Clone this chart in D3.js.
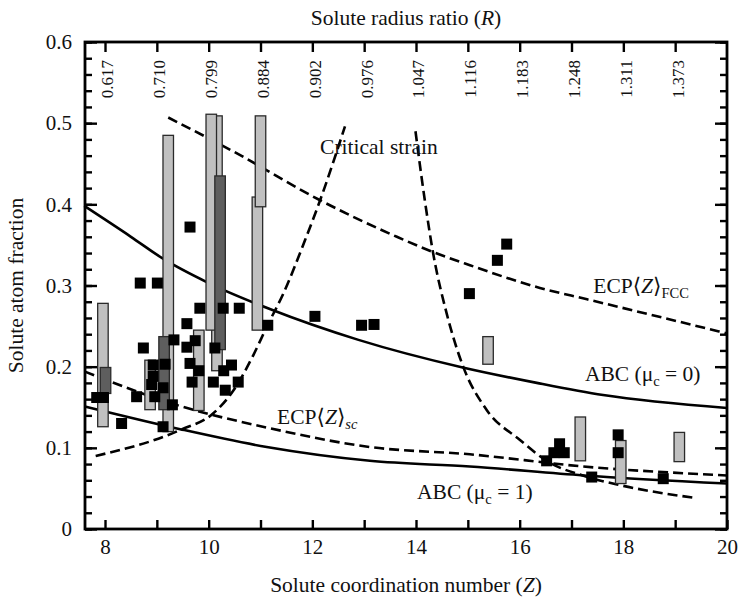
<!DOCTYPE html>
<html>
<head>
<meta charset="utf-8">
<script src="https://cdn.jsdelivr.net/npm/d3@7"></script>
<style>
  body { margin: 0; background: #fff; }
  svg text { font-family: "Liberation Serif", "DejaVu Serif", serif; fill: #111; }
</style>
</head>
<body>
<div id="chart"></div>
<script>
// top axis: solute radius ratio R at integer Z
const radiusZ = [8, 9, 10, 11, 12, 13, 14, 15, 16, 17, 18, 19];
const radiusLabels = ['0.617', '0.710', '0.799', '0.884', '0.902', '0.976',
  '1.047', '1.116', '1.183', '1.248', '1.311', '1.373'];

// model curves, [Z, atom fraction]
const abc0 = [[7.6, 0.398], [8.5, 0.360], [9.12, 0.333], [10, 0.303], [11.18, 0.271],
  [12.89, 0.233], [14.9, 0.199], [16.33, 0.180], [17.61, 0.165], [20, 0.149]];
const abc1 = [[7.61, 0.151], [9.45, 0.123], [11.12, 0.101], [13.11, 0.084],
  [15.04, 0.077], [17.23, 0.066], [20, 0.056]];
const ecpFcc = [[9.22, 0.507], [10.48, 0.465], [12.15, 0.405], [13.63, 0.360],
  [14.3, 0.342], [15.04, 0.325], [16.39, 0.297], [17.3, 0.283], [20, 0.241]];
const ecpSc = [[7.61, 0.194], [9.45, 0.1515], [11.12, 0.125], [13.11, 0.101],
  [15.04, 0.092], [17.23, 0.077], [20, 0.066]];
const strainLow = [[7.82, 0.090], [9.45, 0.122], [10.09, 0.1425], [10.48, 0.171],
  [10.86, 0.214], [11.12, 0.249], [11.44, 0.290], [11.86, 0.356], [12.15, 0.405], [12.63, 0.496]];
const strainHigh = [[13.99, 0.490], [14.17, 0.405], [14.33, 0.340], [14.59, 0.266],
  [14.91, 0.200], [15.36, 0.147], [16.0, 0.110], [16.52, 0.084], [17.29, 0.0645],
  [17.94, 0.054], [19.41, 0.038]];

// measured solutes, [Z, atom fraction]
const solutes = [
  [9.64, 0.372], [9.83, 0.272], [10.28, 0.272], [10.59, 0.272], [9.58, 0.253], [11.14, 0.251],
  [9.74, 0.232], [9.58, 0.224], [10.12, 0.223], [9.64, 0.204], [9.81, 0.195], [10.44, 0.202],
  [10.29, 0.195], [9.68, 0.181], [10.09, 0.181], [10.57, 0.181], [10.32, 0.171],
  [8.68, 0.303], [9.01, 0.303], [8.74, 0.223], [7.84, 0.162], [7.97, 0.162], [8.32, 0.130],
  [8.61, 0.163], [8.93, 0.202], [9.16, 0.203], [8.93, 0.188], [8.90, 0.178], [8.96, 0.163],
  [9.12, 0.174], [9.33, 0.233], [9.30, 0.153], [9.12, 0.126],
  [12.05, 0.262], [12.95, 0.251], [13.19, 0.252], [15.03, 0.290], [15.57, 0.331], [15.75, 0.351],
  [16.77, 0.105], [16.66, 0.094], [16.86, 0.094], [16.52, 0.084], [17.39, 0.064],
  [17.90, 0.116], [17.90, 0.094], [18.77, 0.062]
];

// composition ranges, [Z, low, high]
const lightRanges = [
  [7.96, 0.126, 0.278], [8.87, 0.147, 0.208], [9.22, 0.120, 0.485], [9.81, 0.146, 0.245],
  [10.16, 0.195, 0.509], [10.05, 0.245, 0.511], [10.94, 0.245, 0.409], [11.0, 0.397, 0.509],
  [15.39, 0.203, 0.237], [17.17, 0.084, 0.138], [17.95, 0.056, 0.109], [19.08, 0.083, 0.119]
];
const darkRanges = [[8.01, 0.167, 0.199], [9.14, 0.147, 0.237], [10.22, 0.221, 0.435]];

const labels = [
  { z: 12.15, c: 0.462, parts: [['Critical strain']] },
  { z: 17.42, c: 0.291, parts: [['ECP⟨'], ['Z', 'i'], ['⟩'], ['FCC', 'sub']] },
  { z: 17.26, c: 0.182, parts: [['ABC (μ'], ['c', 'sub'], [' = 0)', 'back']] },
  { z: 11.32, c: 0.129, parts: [['ECP⟨'], ['Z', 'i'], ['⟩'], ['sc', 'subi']] },
  { z: 14.02, c: 0.037, parts: [['ABC (μ'], ['c', 'sub'], [' = 1)', 'back']] }
];

const width = 739;
const height = 598;
const margin = { top: 42, right: 12, bottom: 69, left: 85 };

const svg = d3.select('#chart').append('svg')
  .attr('width', width)
  .attr('height', height);

const x = d3.scaleLinear()
  .domain([7.614, 20])
  .range([margin.left, width - margin.right]);
const y = d3.scaleLinear()
  .domain([0, 0.6])
  .range([height - margin.bottom, margin.top]);

const line = d3.line()
  .x(d => x(d[0]))
  .y(d => y(d[1]))
  .curve(d3.curveMonotoneX);

// curves
const curves = svg.append('g').attr('fill', 'none').attr('stroke', '#000').attr('stroke-width', 2.6);
[abc0, abc1].forEach(d => curves.append('path').attr('d', line(d)));
[ecpFcc, ecpSc, strainLow, strainHigh].forEach(d => curves.append('path')
  .attr('d', line(d))
  .attr('stroke-dasharray', '10,5'));

// composition bars
const barW = 10.5;
function bars(data, fill) {
  svg.append('g').selectAll('rect')
    .data(data)
    .enter()
    .append('rect')
      .attr('x', d => x(d[0]) - barW / 2)
      .attr('y', d => y(d[2]))
      .attr('width', barW)
      .attr('height', d => y(d[1]) - y(d[2]))
      .attr('fill', fill)
      .attr('stroke', '#2a2a2a')
      .attr('stroke-width', 1.3);
}
bars(lightRanges, '#c0c0c0');
bars(darkRanges, '#5e5e5e');

// solute squares
const sq = 11;
svg.append('g').selectAll('rect')
  .data(solutes)
  .enter()
  .append('rect')
    .attr('x', d => x(d[0]) - sq / 2)
    .attr('y', d => y(d[1]) - sq / 2)
    .attr('width', sq)
    .attr('height', sq)
    .attr('fill', '#000');

// axes
const plotBottom = y.range()[0];
const plotTop = y.range()[1];
const plotLeft = x.range()[0];
const plotRight = x.range()[1];

const axBottom = svg.append('g')
  .attr('transform', `translate(0,${plotBottom})`)
  .call(d3.axisBottom(x).tickValues(d3.range(8, 21)).tickSizeInner(-9).tickSizeOuter(0)
    .tickPadding(10).tickFormat(d => d % 2 === 0 ? d : ''));

const axTop = svg.append('g')
  .attr('transform', `translate(0,${plotTop})`)
  .call(d3.axisTop(x).tickValues(radiusZ).tickSizeInner(-10).tickSizeOuter(0)
    .tickFormat((d, i) => radiusLabels[i]));
axTop.selectAll('text')
  .attr('transform', 'rotate(-90)')
  .attr('x', -18)
  .attr('y', 2)
  .attr('dy', '0.35em')
  .attr('text-anchor', 'end')
  .style('font-size', '17px');

const yMajor = d3.range(0, 0.61, 0.1);
const yMinor = d3.range(0, 0.61, 0.02);
const axLeft = svg.append('g')
  .attr('transform', `translate(${plotLeft},0)`)
  .call(d3.axisLeft(y).tickValues(yMajor).tickSizeInner(-12).tickSizeOuter(0).tickPadding(13)
    .tickFormat(d => d === 0 ? '0' : d3.format('.1f')(d)));
svg.append('g')
  .attr('transform', `translate(${plotLeft},0)`)
  .call(d3.axisLeft(y).tickValues(yMinor).tickSizeInner(-7).tickSizeOuter(0).tickFormat(''));
svg.append('g')
  .attr('transform', `translate(${plotRight},0)`)
  .call(d3.axisRight(y).tickValues(yMajor).tickSizeInner(-12).tickSizeOuter(0).tickFormat(''));
svg.append('g')
  .attr('transform', `translate(${plotRight},0)`)
  .call(d3.axisRight(y).tickValues(yMinor).tickSizeInner(-7).tickSizeOuter(0).tickFormat(''));

svg.selectAll('.tick line').attr('stroke', '#000').attr('stroke-width', 2.4);
svg.selectAll('.domain').remove();
axBottom.selectAll('text').style('font-size', '21px');
axLeft.selectAll('text').style('font-size', '21px');
svg.selectAll('.tick text').attr('fill', '#111');

// frame
svg.append('rect')
  .attr('x', plotLeft)
  .attr('y', plotTop)
  .attr('width', plotRight - plotLeft)
  .attr('height', plotBottom - plotTop)
  .attr('fill', 'none')
  .attr('stroke', '#000')
  .attr('stroke-width', 2.8);

// axis titles
function title(sel, pre, it, post) {
  sel.append('tspan').text(pre);
  sel.append('tspan').attr('font-style', 'italic').text(it);
  sel.append('tspan').text(post);
}
svg.append('text')
  .attr('x', (plotLeft + plotRight) / 2)
  .attr('y', 25)
  .attr('text-anchor', 'middle')
  .style('font-size', '21.5px')
  .call(title, 'Solute radius ratio (', 'R', ')');
svg.append('text')
  .attr('x', (plotLeft + plotRight) / 2)
  .attr('y', 592)
  .attr('text-anchor', 'middle')
  .style('font-size', '21.5px')
  .call(title, 'Solute coordination number (', 'Z', ')');
svg.append('text')
  .attr('transform', `translate(23,${(plotTop + plotBottom) / 2}) rotate(-90)`)
  .attr('text-anchor', 'middle')
  .style('font-size', '21.5px')
  .text('Solute atom fraction');

// curve labels
labels.forEach(l => {
  const t = svg.append('text')
    .attr('x', x(l.z))
    .attr('y', y(l.c))
    .style('font-size', '21.5px');
  l.parts.forEach(([s, kind]) => {
    const span = t.append('tspan').text(s);
    if (kind === 'i') span.attr('font-style', 'italic');
    if (kind === 'sub' || kind === 'subi') span.attr('dy', 5).style('font-size', '14.5px');
    if (kind === 'subi') span.attr('font-style', 'italic');
    if (kind === 'back') span.attr('dy', -5);
  });
});
</script>
</body>
</html>
